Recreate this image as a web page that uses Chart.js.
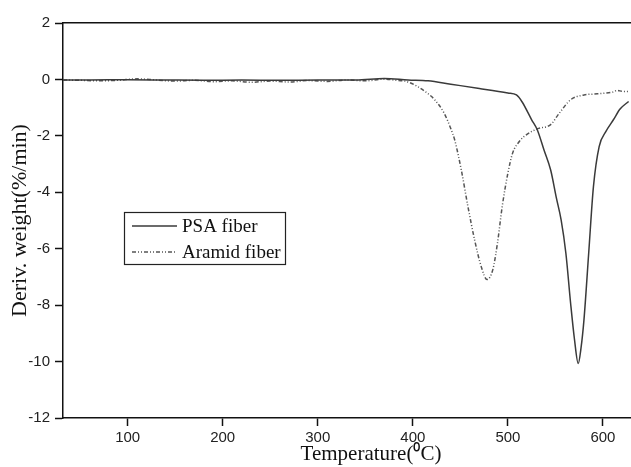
<!DOCTYPE html>
<html>
<head>
<meta charset="utf-8">
<script src="https://cdn.jsdelivr.net/npm/chart.js@4/dist/chart.umd.min.js"></script>
<style>
  html, body { margin: 0; padding: 0; background: #fff; overflow: hidden; }
  #wrap { width: 690px; height: 467px; }
</style>
</head>
<body>
<div id="wrap"><canvas id="chart" width="690" height="467"></canvas></div>
<script>
// Temperature (C) and derivative weight (%/min)
const psaTemp = [32, 60, 100, 140, 180, 220, 260, 300, 340, 370, 395, 416, 440, 470, 500, 509, 515, 525, 531, 538, 545, 551, 556, 561, 566, 570, 574, 577, 580, 585, 590, 596, 603, 611, 618, 627];
const psaDeriv = [-0.02, -0.02, -0.01, -0.02, -0.03, -0.02, -0.03, -0.02, -0.02, 0.03, -0.02, -0.05, -0.17, -0.32, -0.48, -0.55, -0.8, -1.43, -1.79, -2.5, -3.21, -4.2, -4.98, -6.16, -7.94, -9.2, -10.07, -9.5, -8.53, -6.16, -3.8, -2.38, -1.85, -1.43, -1.05, -0.78];

const aramidTemp = [32, 50, 70, 90, 110, 130, 150, 170, 190, 210, 230, 250, 270, 290, 310, 330, 350, 370, 385, 392, 405, 415, 423, 433, 440, 444, 451, 458, 465, 472, 478, 484, 489, 494, 500, 505, 512, 520, 531, 545, 554, 566, 580, 590, 601, 610, 615, 620, 627];
const aramidDeriv = [-0.02, -0.03, -0.05, -0.03, 0.02, -0.02, -0.06, -0.03, -0.08, -0.05, -0.1, -0.06, -0.09, -0.04, -0.07, -0.02, -0.05, 0.01, -0.04, -0.06, -0.25, -0.48, -0.72, -1.2, -1.75, -2.14, -3.21, -4.51, -5.69, -6.64, -7.09, -6.76, -5.81, -4.51, -3.32, -2.61, -2.2, -1.95, -1.75, -1.6, -1.2, -0.72, -0.55, -0.52, -0.49, -0.45, -0.39, -0.42, -0.43];

const xTicks = [100, 200, 300, 400, 500, 600];
const yTicks = [2, 0, -2, -4, -6, -8, -10, -12];

const toPoints = (xs, ys) => xs.map((x, i) => ({ x: x, y: ys[i] }));

// legend box drawn inside the plot, like the original
const boxLegend = {
  id: 'boxLegend',
  afterDraw(chart) {
    const ctx = chart.ctx;
    ctx.save();
    ctx.strokeStyle = '#222';
    ctx.lineWidth = 1.2;
    ctx.strokeRect(124.5, 212.5, 161, 52);
    chart.data.datasets.forEach((ds, i) => {
      const y = 226 + i * 26;
      ctx.beginPath();
      ctx.setLineDash(ds.borderDash || []);
      ctx.strokeStyle = ds.borderColor;
      ctx.lineWidth = ds.borderWidth;
      ctx.moveTo(132, y);
      ctx.lineTo(177, y);
      ctx.stroke();
      ctx.setLineDash([]);
      ctx.fillStyle = '#111';
      ctx.font = '19px "Liberation Serif"';
      ctx.textBaseline = 'middle';
      ctx.fillText(ds.label, 182, y + 1);
    });
    ctx.restore();
  }
};

const ctx = document.getElementById('chart').getContext('2d');
const myChart = new Chart(ctx, {
  type: 'line',
  data: {
    datasets: [
      {
        label: 'PSA fiber',
        data: toPoints(psaTemp, psaDeriv),
        borderColor: '#3a3a3a',
        borderWidth: 1.5,
        pointRadius: 0,
        cubicInterpolationMode: 'monotone'
      },
      {
        label: 'Aramid fiber',
        data: toPoints(aramidTemp, aramidDeriv),
        borderColor: '#555',
        borderWidth: 1.5,
        borderDash: [4, 2, 1, 2, 1, 2],
        pointRadius: 0,
        cubicInterpolationMode: 'monotone'
      }
    ]
  },
  options: {
    responsive: false,
    animation: false,
    devicePixelRatio: 1,
    layout: { padding: { left: 0, right: 11, top: 0, bottom: 0 } },
    plugins: { legend: { display: false }, tooltip: { enabled: false } },
    scales: {
      x: {
        type: 'linear',
        position: 'bottom',
        min: 32,
        max: 680,
        afterBuildTicks: axis => { axis.ticks = xTicks.map(v => ({ value: v })); },
        afterFit: axis => { axis.height = 49; },
        grid: { drawOnChartArea: false, drawTicks: true, tickLength: 8, color: '#111', tickWidth: 1.5 },
        border: { display: true, color: '#111', width: 1.5 },
        ticks: { color: '#222', padding: 3, maxRotation: 0, font: { family: 'Liberation Sans', size: 15 } },
        title: {
          display: true,
          text: 'Temperature(\u2070C)',
          color: '#111',
          padding: { top: 0, bottom: 0 },
          font: { family: 'Liberation Serif', size: 21 }
        }
      },
      xTop: {
        type: 'linear',
        position: 'top',
        min: 32,
        max: 680,
        afterFit: axis => { axis.height = 23; },
        grid: { display: false },
        border: { display: true, color: '#111', width: 1.5 },
        ticks: { display: false }
      },
      y: {
        min: -12,
        max: 2,
        afterBuildTicks: axis => { axis.ticks = yTicks.map(v => ({ value: v })); },
        afterFit: axis => { axis.width = 63; },
        grid: { drawOnChartArea: false, drawTicks: true, tickLength: 8, color: '#111', tickWidth: 1.5 },
        border: { display: true, color: '#111', width: 1.5 },
        ticks: { color: '#222', padding: 5, font: { family: 'Liberation Sans', size: 15 } },
        title: {
          display: true,
          text: 'Deriv. weight(%/min)',
          color: '#111',
          padding: { top: 7, bottom: 0 },
          font: { family: 'Liberation Serif', size: 22 }
        }
      }
    }
  },
  plugins: [boxLegend]
});
</script>
</body>
</html>
